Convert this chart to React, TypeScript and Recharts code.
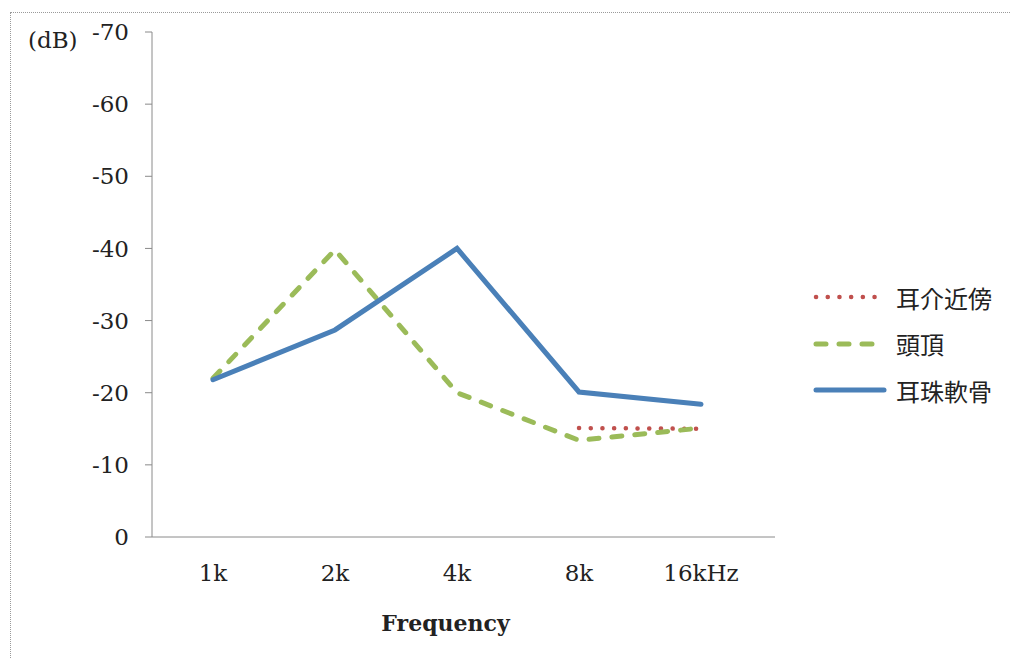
import React from 'react';
import { LineChart, Line, XAxis, YAxis } from 'recharts';

const frequencies = ['1k', '2k', '4k', '8k', '16kHz'];
const nearPinna = [null, null, null, -15.1, -15];
const vertex = [-22, -39.8, -20, -13.4, -15.1];
const tragus = [-21.8, -28.7, -40, -20.1, -18.4];
const yTicks = [0, -10, -20, -30, -40, -50, -60, -70];

const series = [
  { key: 'nearPinna', name: '耳介近傍', color: '#c0504d', width: 4.5, dash: '0.1 11.6' },
  { key: 'vertex', name: '頭頂', color: '#9bbb59', width: 5, dash: '10 13' },
  { key: 'tragus', name: '耳珠軟骨', color: '#4a80b8', width: 5, dash: undefined as string | undefined },
];

const data = frequencies.map((f, i) => ({
  freq: f,
  nearPinna: nearPinna[i],
  vertex: vertex[i],
  tragus: tragus[i],
}));

const serif = '"DejaVu Serif", "Liberation Serif", serif';
const cjk = '"Noto Sans CJK JP", "Noto Sans CJK SC", sans-serif';

export default function App() {
  return (
    <div style={{ position: 'relative', width: 1018, height: 667, margin: -8, background: '#fff', overflow: 'hidden' }}>
      <div
        style={{
          position: 'absolute',
          left: 10,
          top: 12,
          width: 1040,
          height: 700,
          border: '1.5px dotted #9a9a9a',
        }}
      />
      <div style={{ position: 'absolute', left: 28, top: 27, fontFamily: serif, fontSize: 23, color: '#222' }}>(dB)</div>

      <div style={{ position: 'absolute', left: 0, top: 0 }}>
        <LineChart width={1018} height={667} data={data} margin={{ top: 32, right: 243, left: 52, bottom: 90 }}>
          <XAxis
            dataKey="freq"
            stroke="#8a8a8a"
            tickLine={false}
            tickMargin={22}
            height={40}
            padding={{ left: 61, right: 74 }}
            tick={{ fill: '#222', fontFamily: serif, fontSize: 23 }}
            label={{
              value: 'Frequency',
              position: 'bottom',
              offset: 38,
              dx: -18,
              style: { fill: '#222', fontFamily: serif, fontSize: 22, fontWeight: 'bold' },
            }}
          />
          <YAxis
            width={100}
            reversed
            domain={[-70, 0]}
            ticks={yTicks}
            interval={0}
            stroke="#8a8a8a"
            tickSize={7}
            tickMargin={16}
            tick={{ fill: '#222', fontFamily: serif, fontSize: 23 }}
          />
          {series.map((s) => (
            <Line
              key={s.key}
              type="linear"
              dataKey={s.key}
              name={s.name}
              stroke={s.color}
              strokeWidth={s.width}
              strokeDasharray={s.dash}
              strokeLinecap="round"
              dot={false}
              activeDot={false}
              isAnimationActive={false}
            />
          ))}
        </LineChart>
      </div>

      <div style={{ position: 'absolute', left: 812, top: 274 }}>
        {series.map((s) => (
          <div key={s.key} style={{ display: 'flex', alignItems: 'center', height: 46.5 }}>
            <svg width={76} height={12}>
              <line
                x1={4}
                y1={6}
                x2={72}
                y2={6}
                stroke={s.color}
                strokeWidth={s.width}
                strokeDasharray={s.dash}
                strokeLinecap="round"
              />
            </svg>
            <span style={{ marginLeft: 8, fontFamily: cjk, fontSize: 24, color: '#222' }}>{s.name}</span>
          </div>
        ))}
      </div>
    </div>
  );
}
